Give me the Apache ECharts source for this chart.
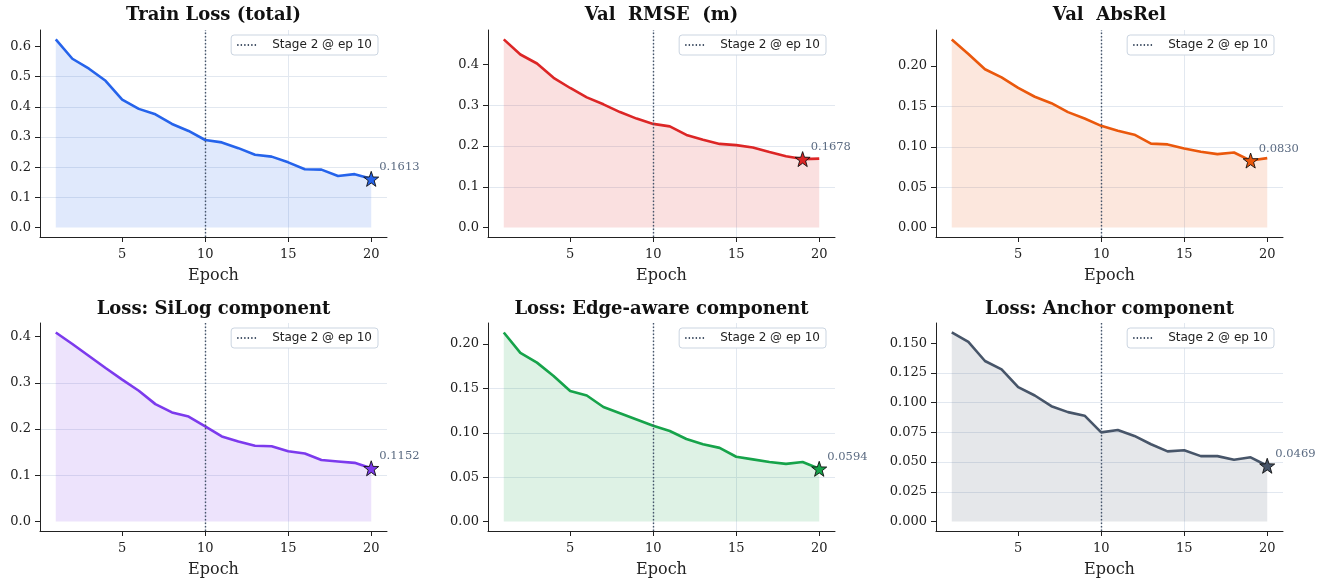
<!DOCTYPE html>
<html>

<head>
    <meta charset="UTF-8">
    <title>Training curves</title>
    <script src="https://cdn.jsdelivr.net/npm/echarts@6/dist/echarts.min.js"></script>
    <style>
        html, body {
            margin: 0;
            padding: 0;
            background: #fff;
        }
    </style>
</head>

<body>
    <div id="main" style="width: 1326px;height:580px;"></div>
</body>
<script type="text/javascript">

    // data
    var epochs = [1, 2, 3, 4, 5, 6, 7, 8, 9, 10, 11, 12, 13, 14, 15, 16, 17, 18, 19, 20];

    var trainLoss = [0.623, 0.559, 0.526, 0.486, 0.424, 0.393, 0.375, 0.343, 0.320, 0.290,
        0.282, 0.263, 0.241, 0.235, 0.216, 0.193, 0.192, 0.171, 0.177, 0.1613];
    var valRmse = [0.461, 0.424, 0.402, 0.367, 0.342, 0.319, 0.302, 0.283, 0.267, 0.254,
        0.248, 0.227, 0.215, 0.205, 0.202, 0.196, 0.185, 0.175, 0.1678, 0.169];
    var valAbsRel = [0.233, 0.215, 0.196, 0.186, 0.173, 0.162, 0.154, 0.143, 0.135, 0.126,
        0.120, 0.115, 0.104, 0.103, 0.098, 0.094, 0.091, 0.093, 0.0830, 0.086];
    var siLogLoss = [0.409, 0.384, 0.358, 0.332, 0.307, 0.283, 0.254, 0.236, 0.227, 0.206,
        0.184, 0.173, 0.164, 0.163, 0.152, 0.147, 0.133, 0.130, 0.127, 0.1152];
    var edgeLoss = [0.213, 0.190, 0.179, 0.164, 0.147, 0.142, 0.129, 0.122, 0.115, 0.108,
        0.102, 0.093, 0.087, 0.083, 0.073, 0.070, 0.067, 0.065, 0.067, 0.0594];
    var anchorLoss = [0.159, 0.151, 0.135, 0.128, 0.113, 0.106, 0.097, 0.092, 0.089, 0.075,
        0.077, 0.072, 0.065, 0.059, 0.060, 0.055, 0.055, 0.052, 0.054, 0.0469];

    var titles = ['Train Loss (total)', 'Val  RMSE  (m)', 'Val  AbsRel',
        'Loss: SiLog component', 'Loss: Edge-aware component', 'Loss: Anchor component'];
    var values = [trainLoss, valRmse, valAbsRel, siLogLoss, edgeLoss, anchorLoss];
    var yStep = [0.1, 0.1, 0.05, 0.1, 0.05, 0.025];
    var yDecimals = [1, 1, 2, 1, 2, 3];
    var xTicks = [5, 10, 15, 20];
    var stageEpoch = 10;
    var stageName = 'Stage 2 @ ep 10';

    // styling
    var colors = ['#2563eb', '#dc2626', '#ea580c', '#7c3aed', '#16a34a', '#475569'];
    var serif = 'DejaVu Serif';
    var W = 1326, H = 580;
    var cols = [[40, 387], [488, 835], [936, 1283]];
    var rows = [[30, 237], [323, 531]];
    var titleTop = [6, 300];

    var STAR = 'path://M0,-10 L2.35,-3.24 L9.51,-3.09 L3.8,1.24 L5.88,8.09 L0,4 L-5.88,8.09 L-3.8,1.24 L-9.51,-3.09 L-2.35,-3.24 Z';

    function hexA(hex, a) {
        var n = parseInt(hex.slice(1), 16);
        return 'rgba(' + (n >> 16 & 255) + ',' + (n >> 8 & 255) + ',' + (n & 255) + ',' + a + ')';
    }

    var grid = [], xAxis = [], yAxis = [], series = [], title = [], legend = [];

    for (var i = 0; i < 6; i++) {
        var c = cols[i % 3], r = rows[Math.floor(i / 3)];
        var vals = values[i];
        var col = colors[i];

        grid.push({
            left: c[0], top: r[0],
            width: c[1] - c[0], height: r[1] - r[0]
        });

        title.push({
            text: titles[i],
            left: (c[0] + c[1]) / 2,
            top: titleTop[Math.floor(i / 3)],
            textAlign: 'center',
            padding: 0,
            textStyle: { fontFamily: serif, fontWeight: 'bold', fontSize: 18, color: '#111' }
        });

        // matplotlib style 5% margins
        var lo = Math.min(0, Math.min.apply(null, vals));
        var hi = Math.max.apply(null, vals);
        var pad = (hi - lo) * 0.05;
        var xlo = epochs[0], xhi = epochs[epochs.length - 1];
        var xpad = (xhi - xlo) * 0.05;

        var yTicks = [];
        for (var t = 0; t <= hi + pad + 1e-9; t += yStep[i]) {
            yTicks.push(+t.toFixed(6));
        }

        xAxis.push({
            type: 'value', gridIndex: i,
            min: xlo - xpad, max: xhi + xpad,
            minInterval: xTicks[1] - xTicks[0], maxInterval: xTicks[1] - xTicks[0],
            name: 'Epoch', nameLocation: 'middle', nameGap: 31,
            nameTextStyle: { fontFamily: serif, fontSize: 16, color: '#222' },
            axisLine: { onZero: false, lineStyle: { color: '#222', width: 1 } },
            axisTick: { show: true, length: 5, customValues: xTicks, lineStyle: { color: '#222', width: 1 } },
            axisLabel: {
                fontFamily: serif, fontSize: 13, color: '#222', margin: 11,
                customValues: xTicks
            },
            splitLine: {
                show: true, showMinLine: false, showMaxLine: false,
                lineStyle: { color: '#e2e8f0', width: 1 }
            }
        });

        yAxis.push({
            type: 'value', gridIndex: i,
            min: lo - pad, max: hi + pad,
            minInterval: yStep[i], maxInterval: yStep[i],
            axisLine: { show: true, onZero: false, lineStyle: { color: '#222', width: 1 } },
            axisTick: { show: true, length: 5, customValues: yTicks, lineStyle: { color: '#222', width: 1 } },
            axisLabel: {
                fontFamily: serif, fontSize: 13, color: '#222', margin: 9,
                customValues: yTicks,
                formatter: (function (d) { return function (v) { return v.toFixed(d); }; })(yDecimals[i])
            },
            splitLine: {
                show: true, showMinLine: false, showMaxLine: false,
                lineStyle: { color: '#e2e8f0', width: 1 }
            }
        });

        series.push({
            type: 'line', xAxisIndex: i, yAxisIndex: i,
            data: epochs.map(function (e, k) { return [e, vals[k]]; }),
            symbol: 'none',
            lineStyle: { color: col, width: 2.6 },
            areaStyle: { color: hexA(col, 0.14), opacity: 1, origin: 0 },
            z: 3,
            markLine: {
                silent: true, symbol: ['none', 'none'],
                label: { show: false },
                lineStyle: { type: [1.4, 2.1], color: '#475569', width: 1.4 },
                data: [{ xAxis: stageEpoch }],
                animation: false
            }
        });

        // legend-only entry for the stage marker
        series.push({
            type: 'line', name: stageName, xAxisIndex: i, yAxisIndex: i,
            data: [], symbol: 'none',
            lineStyle: { type: [1.4, 2.1], color: '#475569', width: 1.4 },
            itemStyle: { color: '#475569' }
        });

        // best epoch star
        var best = 0;
        for (var k = 1; k < vals.length; k++) {
            if (vals[k] < vals[best]) best = k;
        }
        series.push({
            type: 'scatter', xAxisIndex: i, yAxisIndex: i,
            data: [[epochs[best], vals[best]]],
            symbol: STAR, symbolSize: 15,
            itemStyle: { color: col, borderColor: '#111', borderWidth: 0.9, opacity: 1 },
            z: 5,
            label: {
                show: true, position: [16, -10], align: 'left', verticalAlign: 'top',
                fontFamily: serif, fontSize: 11.5, color: '#5b6b82',
                formatter: function (p) { return p.value[1].toFixed(4); }
            }
        });

        legend.push({
            data: [stageName],
            right: W - c[1] + 9,
            top: r[0] + 5,
            orient: 'horizontal',
            backgroundColor: '#fff',
            borderColor: '#cbd5e1', borderWidth: 1, borderRadius: 3,
            padding: [4, 6, 4, 5],
            itemWidth: 21, itemHeight: 10,
            selectedMode: false,
            itemStyle: { color: 'rgba(0,0,0,0)', borderWidth: 0, opacity: 0 },
            textStyle: { fontFamily: 'DejaVu Sans', fontSize: 12, color: '#222', padding: [0, 0, 0, 9] }
        });
    }

    var myChart = echarts.init(document.getElementById('main'));
    myChart.setOption({
        animation: false,
        backgroundColor: '#fff',
        title: title,
        legend: legend,
        grid: grid,
        xAxis: xAxis,
        yAxis: yAxis,
        series: series
    });

</script>

</html>
